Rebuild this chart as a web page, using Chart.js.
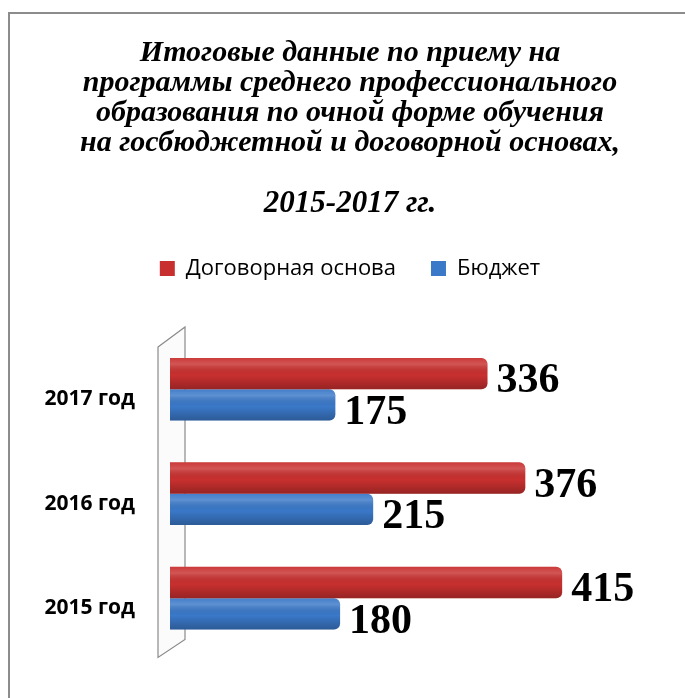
<!DOCTYPE html>
<html>
<head>
<meta charset="utf-8">
<script src="https://cdn.jsdelivr.net/npm/chart.js@4/dist/chart.umd.min.js"></script>
<style>
  html, body { margin: 0; padding: 0; background: #fff; overflow: hidden; }
  #wrap { position: relative; width: 685px; height: 698px; }
  #frame { position: absolute; left: 8px; top: 12px; width: 700px; height: 700px; border: 2px solid #8c8c8c; box-sizing: border-box; }
  canvas { position: absolute; left: 0; top: 0; }
</style>
</head>
<body>
<div id="wrap">
  <div id="frame"></div>
  <canvas id="chart" width="685" height="698"></canvas>
</div>
<script>
// data
const years = ['2017 год', '2016 год', '2015 год'];
const contractVals = [336, 376, 415];
const budgetVals = [175, 215, 180];
const titleLines = [
  'Итоговые данные по приему на',
  'программы среднего профессионального',
  'образования по очной форме обучения',
  'на госбюджетной и договорной основах,'
];
const subTitle = '2015-2017 гг.';

const serif = '"Liberation Serif", "Times New Roman", serif';
const sans = '"Open Sans", sans-serif';

// back wall of the 3d plot
const wallPlugin = {
  id: 'wall',
  beforeDatasetsDraw(chart){
    let a = chart.chartArea;
    let ctx = chart.ctx;
    ctx.save();
    ctx.beginPath();
    ctx.moveTo(a.left - 12, a.top + 10);
    ctx.lineTo(a.left + 15, a.top - 10);
    ctx.lineTo(a.left + 15, a.bottom - 11);
    ctx.lineTo(a.left - 12, a.bottom + 7);
    ctx.closePath();
    ctx.fillStyle = '#fbfbfb';
    ctx.fill();
    ctx.strokeStyle = '#8a8a8a';
    ctx.lineWidth = 1.2;
    ctx.stroke();
    ctx.restore();
  }
};

// shading on bars + value labels
const barLook = {
  id: 'barLook',
  afterDatasetsDraw(chart){
    let ctx = chart.ctx;
    chart.data.datasets.forEach((ds, di) => {
      let meta = chart.getDatasetMeta(di);
      meta.data.forEach((bar, i) => {
        let top = bar.y - bar.height / 2;
        let g = ctx.createLinearGradient(0, top, 0, top + bar.height);
        g.addColorStop(0, 'rgba(255,255,255,0.05)');
        g.addColorStop(0.2, 'rgba(255,255,255,0.18)');
        g.addColorStop(0.55, 'rgba(0,0,0,0)');
        g.addColorStop(1, 'rgba(0,0,0,0.25)');
        ctx.save();
        ctx.fillStyle = g;
        ctx.beginPath();
        ctx.roundRect(bar.base, top, bar.x - bar.base, bar.height, [0, 6, 6, 0]);
        ctx.fill();
        ctx.restore();

        ctx.save();
        ctx.font = 'bold 42px ' + serif;
        ctx.fillStyle = '#000';
        ctx.textAlign = 'left';
        ctx.textBaseline = 'middle';
        ctx.fillText(String(ds.data[i]), bar.x + 9, bar.y + 8);
        ctx.restore();
      });
    });
  }
};

new Chart(document.getElementById('chart'), {
  type: 'bar',
  data: {
    labels: years,
    datasets: [
      {
        label: 'Договорная основа',
        data: contractVals,
        backgroundColor: '#c8302f',
        borderWidth: 0,
        borderRadius: {topRight: 6, bottomRight: 6},
        borderSkipped: false
      },
      {
        label: 'Бюджет',
        data: budgetVals,
        backgroundColor: '#3a78c8',
        borderWidth: 0,
        borderRadius: {topRight: 6, bottomRight: 6},
        borderSkipped: false
      }
    ]
  },
  options: {
    indexAxis: 'y',
    responsive: false,
    animation: false,
    // right padding is negative so the titles centre where the original has them
    layout: { padding: { top: 21, left: 10, right: -5, bottom: 30 } },
    datasets: { bar: { barPercentage: 1, categoryPercentage: 0.6 } },
    scales: {
      x: {
        position: 'top',
        min: 0, max: 545,
        grid: { display: false },
        border: { display: false },
        ticks: { display: false },
        afterFit(scale){ scale.height = 47.5; }
      },
      y: {
        grid: { display: false, drawTicks: false },
        border: { display: false },
        afterFit(scale){ scale.width = 160; },
        ticks: {
          padding: 35,
          labelOffset: 10,
          color: '#000',
          font: { family: sans, weight: 'bold', size: 21 }
        }
      }
    },
    plugins: {
      tooltip: { enabled: false },
      title: {
        display: true,
        text: titleLines,
        color: '#000',
        font: { family: serif, size: 30, weight: 'bold', style: 'italic', lineHeight: 1.0 },
        padding: { top: 17, bottom: 0 }
      },
      subtitle: {
        display: true,
        text: subTitle,
        color: '#000',
        font: { family: serif, size: 31, weight: 'bold', style: 'italic', lineHeight: 1.0 },
        padding: { top: 30, bottom: 3.5 }
      },
      legend: {
        display: true,
        labels: {
          boxWidth: 15,
          boxHeight: 15,
          padding: 35,
          color: '#000',
          font: { family: sans, size: 22 }
        }
      }
    }
  },
  plugins: [wallPlugin, barLook]
});
</script>
</body>
</html>
